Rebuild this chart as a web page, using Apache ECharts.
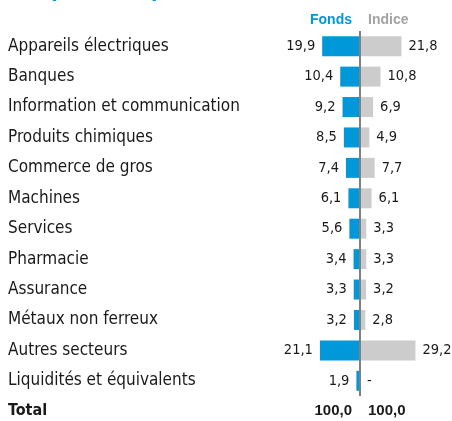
<!DOCTYPE html>
<html>
<head>
<meta charset="utf-8">
<script src="https://cdn.jsdelivr.net/npm/echarts@6/dist/echarts.min.js"></script>
<style>
  html, body { margin: 0; padding: 0; background: #fff; }
  #sectorChart { width: 452px; height: 421px; }
</style>
</head>
<body>
<div id="sectorChart"></div>
<script>
// Répartition par secteur, fonds vs indice

var categories = ['Appareils électriques', 'Banques', 'Information et communication', 'Produits chimiques',
    'Commerce de gros', 'Machines', 'Services', 'Pharmacie', 'Assurance', 'Métaux non ferreux',
    'Autres secteurs', 'Liquidités et équivalents'];
var fonds = [19.9, 10.4, 9.2, 8.5, 7.4, 6.1, 5.6, 3.4, 3.3, 3.2, 21.1, 1.9];
var indice = [21.8, 10.8, 6.9, 4.9, 7.7, 6.1, 3.3, 3.3, 3.2, 2.8, 29.2, 0];
var totals = [100.0, 100.0];
var seriesNames = ['Fonds', 'Indice'];

var blue = '#0098d8';
var grey = '#cccccc';
var textFont = '"DejaVu Sans Condensed", "DejaVu Sans", sans-serif';
var boldNum = '"Liberation Sans", Arial, sans-serif';

function fmt (v) {
    return Math.abs(v).toFixed(1).replace('.', ',');
}

function echartData (id, option) {
    var myChart = echarts.init(document.getElementById(id));
    myChart.setOption(option);
}

var option1 = {
    animation: false,
    grid: { left: 303, top: 31, width: 142.5, height: 365 },
    xAxis: { type: 'value', min: -30, max: 45, show: false },
    yAxis: {
        type: 'category',
        inverse: true,
        data: categories,
        axisLine: { show: false },
        axisTick: { show: false },
        axisLabel: {
            align: 'left',
            margin: 295,
            fontFamily: textFont,
            fontSize: 17,
            color: '#1a1a1a'
        }
    },
    graphic: [
        { type: 'text', left: 24, top: -19, style: { text: 'Répartition par secteur', fill: blue,
            font: 'bold 21px ' + textFont } },
        { type: 'text', x: 352, y: 20, style: { text: seriesNames[0], fill: blue, align: 'right', verticalAlign: 'middle',
            font: 'bold 14px ' + boldNum } },
        { type: 'text', x: 368, y: 20, style: { text: seriesNames[1], fill: '#a3a3a3', align: 'left', verticalAlign: 'middle',
            font: 'bold 14px ' + boldNum } },
        { type: 'text', x: 8, y: 411, style: { text: 'Total', fill: '#1a1a1a', verticalAlign: 'middle',
            font: 'bold 16px ' + textFont } },
        { type: 'text', x: 352, y: 411, style: { text: fmt(totals[0]), fill: '#1a1a1a', align: 'right', verticalAlign: 'middle',
            font: 'bold 15px ' + boldNum } },
        { type: 'text', x: 368, y: 411, style: { text: fmt(totals[1]), fill: '#1a1a1a', align: 'left', verticalAlign: 'middle',
            font: 'bold 15px ' + boldNum } }
    ],
    series: [
        {
            name: seriesNames[0],
            type: 'bar',
            data: fonds.map(function (v) { return -v; }),
            barWidth: 20,
            barGap: '-100%',
            itemStyle: { color: blue },
            label: {
                show: true,
                position: 'left',
                distance: 7,
                fontFamily: textFont,
                fontSize: 14.5,
                color: '#1a1a1a',
                formatter: function (p) { return fmt(p.value); }
            },
            markLine: {
                silent: true,
                symbol: 'none',
                label: { show: false },
                lineStyle: { color: '#808080', width: 2, type: 'solid' },
                data: [{ xAxis: 0 }]
            }
        },
        {
            name: seriesNames[1],
            type: 'bar',
            data: indice,
            barWidth: 20,
            itemStyle: { color: grey },
            label: {
                show: true,
                position: 'right',
                distance: 7,
                fontFamily: textFont,
                fontSize: 14.5,
                color: '#1a1a1a',
                formatter: function (p) { return p.value === 0 ? '-' : fmt(p.value); }
            }
        }
    ]
};

echartData('sectorChart', option1);
</script>
</body>
</html>
